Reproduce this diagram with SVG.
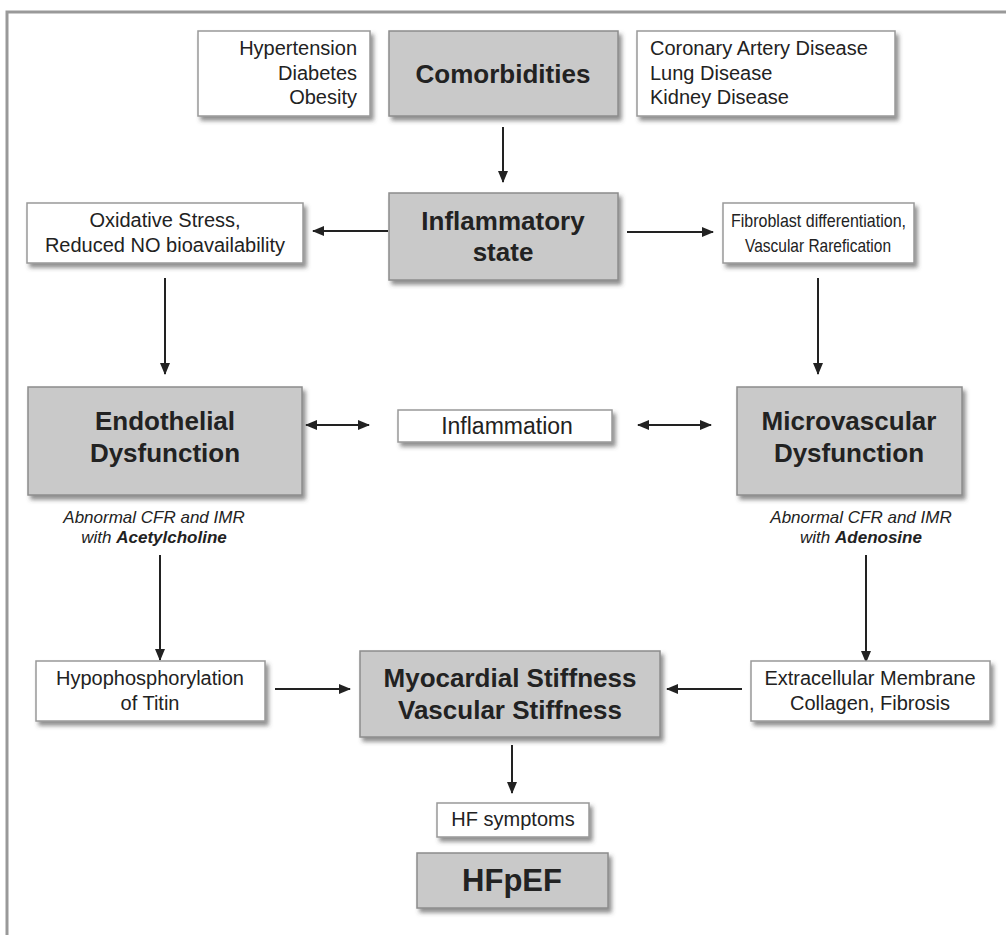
<svg xmlns="http://www.w3.org/2000/svg" width="1006" height="935" viewBox="0 0 1006 935">
<style>
text{font-family:"Liberation Sans",Arial,sans-serif;fill:#222}
.w{fill:#fff;stroke:#999;stroke-width:1.5}
.g{fill:#c9c9c9;stroke:#8c8c8c;stroke-width:1.5}
.t{font-size:20px}
.b{font-size:26px;font-weight:bold}
.i{font-size:17px;font-style:italic}
.c{stroke:#222;stroke-width:2;fill:none}
</style>
<defs>
<filter id="sh" x="-10%" y="-10%" width="130%" height="140%">
<feDropShadow dx="3" dy="4" stdDeviation="2" flood-color="#444" flood-opacity="0.6"/>
</filter>
<marker id="ah" markerUnits="userSpaceOnUse" markerWidth="12" markerHeight="10" refX="11" refY="5" orient="auto-start-reverse">
<path d="M0,0 L12,5 L0,10 Z" fill="#222"/>
</marker>
</defs>
<rect width="1006" height="935" fill="#fff"/>
<path d="M7,935 V12 H1006" fill="none" stroke="#999" stroke-width="3"/>

<g id="connectors">
<line class="c" x1="503" y1="127" x2="503" y2="182" marker-end="url(#ah)"/>
<line class="c" x1="388" y1="231" x2="313" y2="231" marker-end="url(#ah)"/>
<line class="c" x1="627" y1="232" x2="713" y2="232" marker-end="url(#ah)"/>
<line class="c" x1="165" y1="278" x2="165" y2="374" marker-end="url(#ah)"/>
<line class="c" x1="818" y1="278" x2="818" y2="374" marker-end="url(#ah)"/>
<line class="c" x1="306" y1="425" x2="369" y2="425" marker-start="url(#ah)" marker-end="url(#ah)"/>
<line class="c" x1="638" y1="425" x2="711" y2="425" marker-start="url(#ah)" marker-end="url(#ah)"/>
<line class="c" x1="160" y1="555" x2="160" y2="660" marker-end="url(#ah)"/>
<line class="c" x1="866" y1="555" x2="866" y2="662" marker-end="url(#ah)"/>
<line class="c" x1="275" y1="689" x2="350" y2="689" marker-end="url(#ah)"/>
<line class="c" x1="742" y1="689" x2="667" y2="689" marker-end="url(#ah)"/>
<line class="c" x1="512" y1="745" x2="512" y2="793" marker-end="url(#ah)"/>
</g>

<g id="risk-left">
<rect class="w" x="198" y="31" width="172" height="85" filter="url(#sh)"/>
<text class="t" text-anchor="end"><tspan x="357" y="55">Hypertension</tspan><tspan x="357" y="80">Diabetes</tspan><tspan x="357" y="104">Obesity</tspan></text>
</g>
<g id="comorbidities">
<rect class="g" x="389" y="31" width="229" height="85" filter="url(#sh)"/>
<text class="b" x="503" y="83" text-anchor="middle">Comorbidities</text>
</g>
<g id="risk-right">
<rect class="w" x="637" y="31" width="258" height="85" filter="url(#sh)"/>
<text class="t"><tspan x="650" y="55">Coronary Artery Disease</tspan><tspan x="650" y="80">Lung Disease</tspan><tspan x="650" y="104">Kidney Disease</tspan></text>
</g>
<g id="inflammatory-state">
<rect class="g" x="389" y="193" width="229" height="87" filter="url(#sh)"/>
<text class="b" text-anchor="middle"><tspan x="503" y="230">Inflammatory</tspan><tspan x="503" y="261">state</tspan></text>
</g>
<g id="oxidative">
<rect class="w" x="27" y="203" width="276" height="60" filter="url(#sh)"/>
<text class="t" text-anchor="middle"><tspan x="165" y="227">Oxidative Stress,</tspan><tspan x="165" y="252">Reduced NO bioavailability</tspan></text>
</g>
<g id="fibroblast">
<rect class="w" x="723" y="203" width="191" height="60" filter="url(#sh)"/>
<text font-size="19" x="731" y="227" textLength="175" lengthAdjust="spacingAndGlyphs">Fibroblast differentiation,</text>
<text font-size="19" x="745" y="252" textLength="146" lengthAdjust="spacingAndGlyphs">Vascular Rarefication</text>
</g>
<g id="endothelial">
<rect class="g" x="28" y="387" width="274" height="108" filter="url(#sh)"/>
<text class="b" text-anchor="middle"><tspan x="165" y="430">Endothelial</tspan><tspan x="165" y="462">Dysfunction</tspan></text>
<text class="i" text-anchor="middle"><tspan x="154" y="523">Abnormal CFR and IMR</tspan><tspan x="154" y="543">with <tspan font-weight="bold">Acetylcholine</tspan></tspan></text>
</g>
<g id="inflammation">
<rect class="w" x="398" y="410" width="214" height="32" filter="url(#sh)"/>
<text x="507" y="434" font-size="23" text-anchor="middle">Inflammation</text>
</g>
<g id="microvascular">
<rect class="g" x="737" y="387" width="225" height="108" filter="url(#sh)"/>
<text class="b" text-anchor="middle"><tspan x="849" y="430">Microvascular</tspan><tspan x="849" y="462">Dysfunction</tspan></text>
<text class="i" text-anchor="middle"><tspan x="861" y="523">Abnormal CFR and IMR</tspan><tspan x="861" y="543">with <tspan font-weight="bold">Adenosine</tspan></tspan></text>
</g>
<g id="titin">
<rect class="w" x="36" y="661" width="229" height="60" filter="url(#sh)"/>
<text class="t" text-anchor="middle"><tspan x="150" y="685">Hypophosphorylation</tspan><tspan x="150" y="710">of Titin</tspan></text>
</g>
<g id="stiffness">
<rect class="g" x="360" y="651" width="300" height="86" filter="url(#sh)"/>
<text class="b" text-anchor="middle"><tspan x="510" y="687">Myocardial Stiffness</tspan><tspan x="510" y="719">Vascular Stiffness</tspan></text>
</g>
<g id="extracellular">
<rect class="w" x="751" y="661" width="239" height="60" filter="url(#sh)"/>
<text class="t" text-anchor="middle"><tspan x="870" y="685">Extracellular Membrane</tspan><tspan x="870" y="710">Collagen, Fibrosis</tspan></text>
</g>
<g id="hf-symptoms">
<rect class="w" x="437" y="803" width="152" height="34" filter="url(#sh)"/>
<text class="t" x="513" y="826" text-anchor="middle">HF symptoms</text>
</g>
<g id="hfpef">
<rect class="g" x="417" y="853" width="191" height="55" filter="url(#sh)"/>
<text x="512" y="891" font-size="31" font-weight="bold" text-anchor="middle">HFpEF</text>
</g>
</svg>
